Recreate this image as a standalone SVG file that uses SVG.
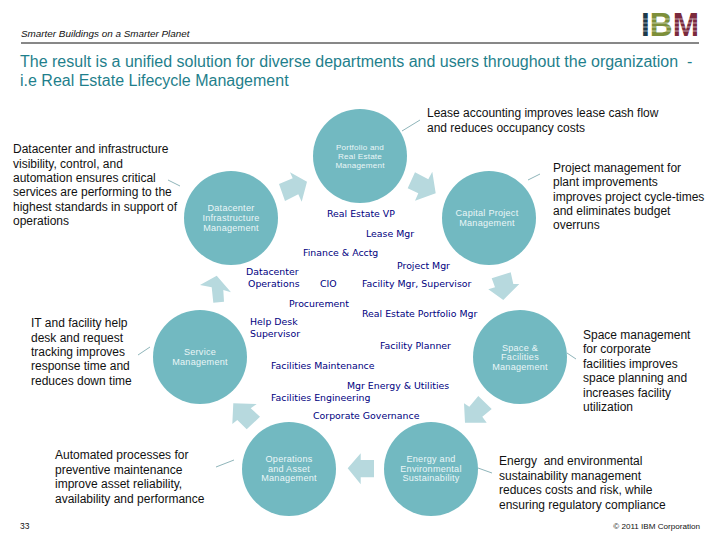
<svg xmlns="http://www.w3.org/2000/svg" width="720" height="540" viewBox="0 0 720 540">
<style>
text{font-family:"Liberation Sans",Arial,sans-serif;white-space:pre}
.node circle{fill:#72b9c1}
.nl{fill:#eaf6f7;font-size:9.1px;text-anchor:middle;letter-spacing:.25px}
.sm{font-size:8.1px;letter-spacing:.2px}
.arrow{fill:#b7d9de}
.lead{stroke:#8fb5ba;stroke-width:1;fill:none}
.d{fill:#111;font-size:12px}
.r{fill:#000080;font-family:"DejaVu Sans",sans-serif;font-size:9.4px}
.t{fill:#1f7f8c;font-size:16px}
.st{stroke:#fff;stroke-width:.8;opacity:.7}
</style>
<rect width="720" height="540" fill="#fff"/>
<g id="header">
<text x="21" y="37" font-size="9.9" font-style="italic" fill="#111">Smarter Buildings on a Smarter Planet</text>
<line x1="21" y1="43" x2="699" y2="43" stroke="#111" stroke-width="1"/>
<text class="t" x="20" y="67">The result is a unified solution for diverse departments and users throughout the organization  -</text>
<text class="t" x="20" y="86">i.e Real Estate Lifecycle Management</text>
</g>
<g id="logo">
<text x="641" y="36" font-family="Liberation Serif" font-weight="bold" font-size="33" textLength="58" lengthAdjust="spacingAndGlyphs"><tspan fill="#1d3a4a">I</tspan><tspan fill="#7d8f3a">B</tspan><tspan fill="#7a2a3c">M</tspan></text>
<line class="st" x1="640" y1="19" x2="700" y2="19"/><line class="st" x1="640" y1="23" x2="700" y2="23"/><line class="st" x1="640" y1="27" x2="700" y2="27"/><line class="st" x1="640" y1="31" x2="700" y2="31"/>
</g>
<g id="connectors">
<polygon class="arrow" points="279,184 292.7,178.3 290,172.3 307,181.7 301.7,201.7 298.3,194.3 285,201"/>
<polygon class="arrow" points="415,172.3 428.3,179.3 432.3,171.7 435.7,193.3 415,200.7 418.3,193.3 407.7,188.3"/>
<polygon class="arrow" points="491.7,278.3 510.7,272.3 513.3,284 519.3,284 503.3,300 488.3,289.3 495,287.3"/>
<polygon class="arrow" points="478.3,396 491.7,409 482.3,416.7 486.7,422.7 465,422.7 464,403.3 469.3,406.7"/>
<polygon class="arrow" points="374,460 360.7,460 360.7,453.3 347.7,468.3 360.7,484.3 360.7,477.3 374,477.3"/>
<polygon class="arrow" points="256.7,404 250.7,408.3 260,416.7 246.7,429.3 237.3,420 232.3,424 233.3,403.3"/>
<polygon class="arrow" points="216.7,275.7 231,292.3 223.3,290 224,301.7 213.3,302.7 211.7,287.3 200,285"/>
<line class="lead" x1="402" y1="131" x2="420" y2="120"/>
<line class="lead" x1="528" y1="180" x2="540" y2="174"/>
<line class="lead" x1="168" y1="180" x2="180" y2="186"/>
<line class="lead" x1="138" y1="355" x2="150" y2="347"/>
<line class="lead" x1="567" y1="353" x2="576" y2="359"/>
<line class="lead" x1="216" y1="467" x2="234" y2="460"/>
<line class="lead" x1="478" y1="468" x2="492" y2="473"/>
</g>
<g id="n-portfolio" class="node"><circle cx="360" cy="156" r="47"/><text class="nl sm" x="360" y="150">Portfolio and</text><text class="nl sm" x="360" y="159">Real Estate</text><text class="nl sm" x="360" y="168">Management</text></g>
<g id="n-datacenter" class="node"><circle cx="231" cy="218" r="47"/><text class="nl" x="231" y="211">Datacenter</text><text class="nl" x="231" y="221">Infrastructure</text><text class="nl" x="231" y="231">Management</text></g>
<g id="n-capital" class="node"><circle cx="489" cy="218" r="47"/><text class="nl" x="487" y="216">Capital Project</text><text class="nl" x="487" y="226">Management</text></g>
<g id="n-service" class="node"><circle cx="200" cy="357" r="47"/><text class="nl" x="200" y="355">Service</text><text class="nl" x="200" y="365">Management</text></g>
<g id="n-space" class="node"><circle cx="520" cy="357" r="47"/><text class="nl" x="520" y="351">Space &amp;</text><text class="nl" x="520" y="360">Facilities</text><text class="nl" x="520" y="370">Management</text></g>
<g id="n-ops" class="node"><circle cx="289" cy="469" r="47"/><text class="nl" x="289" y="462">Operations</text><text class="nl" x="289" y="472">and Asset</text><text class="nl" x="289" y="481">Management</text></g>
<g id="n-energy" class="node"><circle cx="431" cy="469" r="47"/><text class="nl" x="431" y="462">Energy and</text><text class="nl" x="431" y="472">Environmental</text><text class="nl" x="431" y="481">Sustainability</text></g>
<g id="roles">
<text class="r" x="327" y="217">Real Estate VP</text>
<text class="r" x="366" y="237">Lease Mgr</text>
<text class="r" x="303" y="256">Finance &amp; Acctg</text>
<text class="r" x="397" y="269">Project Mgr</text>
<text class="r" x="246" y="275">Datacenter</text>
<text class="r" x="248" y="287">Operations</text>
<text class="r" x="320" y="287">CIO</text>
<text class="r" x="362" y="287">Facility Mgr, Supervisor</text>
<text class="r" x="289" y="307">Procurement</text>
<text class="r" x="362" y="317">Real Estate Portfolio Mgr</text>
<text class="r" x="250" y="325">Help Desk</text>
<text class="r" x="250" y="337">Supervisor</text>
<text class="r" x="380" y="349">Facility Planner</text>
<text class="r" x="271" y="369">Facilities Maintenance</text>
<text class="r" x="347" y="389">Mgr Energy &amp; Utilities</text>
<text class="r" x="271" y="401">Facilities Engineering</text>
<text class="r" x="313" y="419">Corporate Governance</text>
</g>
<g id="descriptions">
<text class="d"><tspan x="427" y="117">Lease accounting improves lease cash flow</tspan><tspan x="427" y="132">and reduces occupancy costs</tspan></text>
<text class="d"><tspan x="13" y="153">Datacenter and infrastructure</tspan><tspan x="13" y="168">visibility, control, and</tspan><tspan x="13" y="182">automation ensures critical</tspan><tspan x="13" y="196">services are performing to the</tspan><tspan x="13" y="211">highest standards in support of</tspan><tspan x="13" y="225">operations</tspan></text>
<text class="d"><tspan x="553" y="172">Project management for</tspan><tspan x="553" y="186">plant improvements</tspan><tspan x="553" y="201">improves project cycle-times</tspan><tspan x="553" y="215">and eliminates budget</tspan><tspan x="553" y="229">overruns</tspan></text>
<text class="d"><tspan x="31" y="327">IT and facility help</tspan><tspan x="31" y="342">desk and request</tspan><tspan x="31" y="356">tracking improves</tspan><tspan x="31" y="370">response time and</tspan><tspan x="31" y="385">reduces down time</tspan></text>
<text class="d"><tspan x="583" y="339">Space management</tspan><tspan x="583" y="353">for corporate</tspan><tspan x="583" y="368">facilities improves</tspan><tspan x="583" y="382">space planning and</tspan><tspan x="583" y="397">increases facility</tspan><tspan x="583" y="411">utilization</tspan></text>
<text class="d"><tspan x="55" y="459">Automated processes for</tspan><tspan x="55" y="474">preventive maintenance</tspan><tspan x="55" y="488">improve asset reliability,</tspan><tspan x="55" y="503">availability and performance</tspan></text>
<text class="d"><tspan x="499" y="465">Energy  and environmental</tspan><tspan x="499" y="480">sustainability management</tspan><tspan x="499" y="494">reduces costs and risk, while</tspan><tspan x="499" y="509">ensuring regulatory compliance</tspan></text>
</g>
<g id="footer">
<text x="20" y="529" font-size="8.5" fill="#111">33</text>
<text x="700" y="529" font-size="8.1" fill="#111" text-anchor="end">© 2011 IBM Corporation</text>
</g>
</svg>
